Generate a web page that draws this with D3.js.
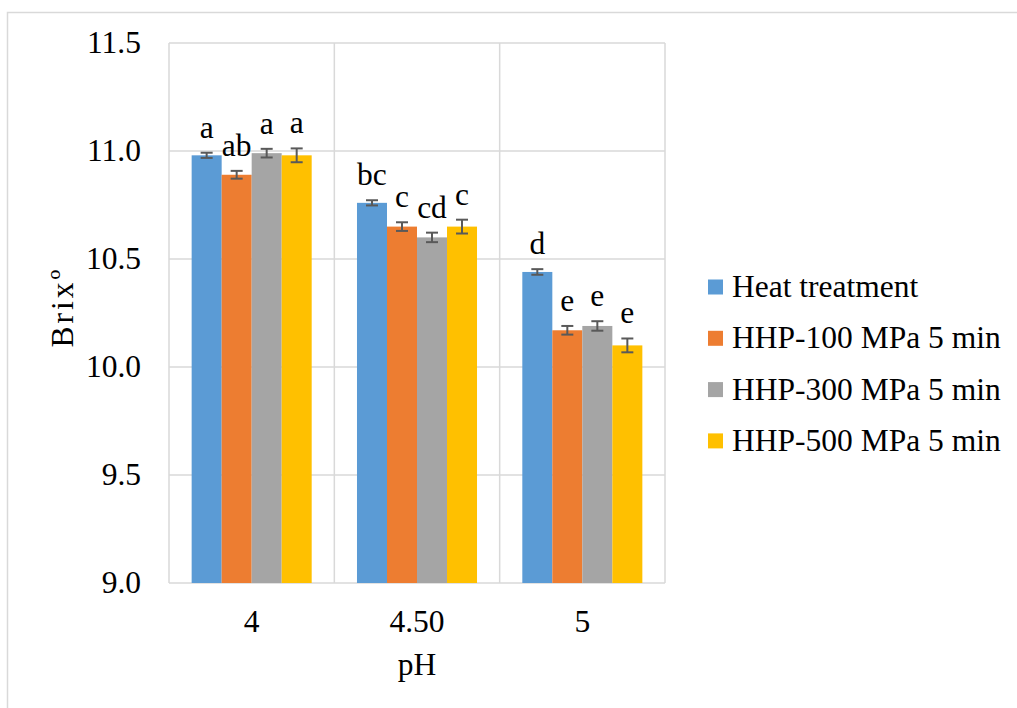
<!DOCTYPE html>
<html>
<head>
<meta charset="utf-8">
<script src="https://cdn.jsdelivr.net/npm/d3@7"></script>
<style>
  html, body { margin: 0; padding: 0; background: #fff; }
  svg { display: block; }
</style>
</head>
<body>
<svg id="chart" width="1017" height="708"></svg>
<script>
// Brix by pH and treatment
const categories = ["4", "4.50", "5"];
const seriesNames = ["Heat treatment", "HHP-100 MPa 5 min", "HHP-300 MPa 5 min", "HHP-500 MPa 5 min"];
const heatValues = [10.98, 10.76, 10.44];
const hhp100Values = [10.89, 10.65, 10.17];
const hhp300Values = [10.99, 10.60, 10.19];
const hhp500Values = [10.98, 10.65, 10.10];
const heatErr = [0.012, 0.012, 0.013];
const hhp100Err = [0.018, 0.02, 0.02];
const hhp300Err = [0.02, 0.022, 0.022];
const hhp500Err = [0.032, 0.032, 0.032];
const heatLetters = ["a", "bc", "d"];
const hhp100Letters = ["ab", "c", "e"];
const hhp300Letters = ["a", "cd", "e"];
const hhp500Letters = ["a", "c", "e"];
const yTicks = [9.0, 9.5, 10.0, 10.5, 11.0, 11.5];
const colors = ["#5B9BD5", "#ED7D31", "#A5A5A5", "#FFC000"];

const valueSets = [heatValues, hhp100Values, hhp300Values, hhp500Values];
const errSets = [heatErr, hhp100Err, hhp300Err, hhp500Err];
const letterSets = [heatLetters, hhp100Letters, hhp300Letters, hhp500Letters];

const FONT = '"Liberation Serif"';
const FS = 31.5;

const svg = d3.select("#chart");
const plot = { left: 169, right: 665, top: 43, bottom: 583 };

function label(sel) {
  return sel.style("font-family", FONT).style("font-size", FS + "px").attr("fill", "#000");
}

// Outer chart frame
svg.append("rect")
  .attr("x", 7.5).attr("y", 12.5)
  .attr("width", 1030).attr("height", 720)
  .attr("fill", "none").attr("stroke", "#d9d9d9").attr("stroke-width", 1.5);

const y = d3.scaleLinear().domain([9.0, 11.5]).range([plot.bottom, plot.top]);
const x0 = d3.scaleBand().domain(categories).range([plot.left, plot.right]);
const gap = x0.bandwidth() * 0.137;
const x1 = d3.scaleBand().domain(seriesNames).range([gap, x0.bandwidth() - gap]);

// Horizontal gridlines
svg.append("g").selectAll("line").data(yTicks).join("line")
  .attr("x1", plot.left).attr("x2", plot.right)
  .attr("y1", d => y(d)).attr("y2", d => y(d))
  .attr("stroke", "#d9d9d9").attr("stroke-width", 1.5);

// Vertical category dividers
const dividers = categories.map(c => x0(c)).concat([plot.right]);
svg.append("g").selectAll("line").data(dividers).join("line")
  .attr("x1", d => d).attr("x2", d => d)
  .attr("y1", plot.top).attr("y2", plot.bottom)
  .attr("stroke", "#d9d9d9").attr("stroke-width", 1.5);

// Y tick labels
svg.append("g").selectAll("text").data(yTicks).join("text")
  .attr("x", 141).attr("y", d => y(d) + 10)
  .attr("text-anchor", "end")
  .call(label)
  .text(d => d.toFixed(1));

// Bars, error bars, letters
const rows = [];
categories.forEach((c, ci) => {
  seriesNames.forEach((s, si) => {
    rows.push({ c, s, si, v: valueSets[si][ci], e: errSets[si][ci], l: letterSets[si][ci] });
  });
});

svg.append("g").selectAll("rect").data(rows).join("rect")
  .attr("x", d => x0(d.c) + x1(d.s))
  .attr("width", x1.bandwidth())
  .attr("y", d => y(d.v))
  .attr("height", d => y(9.0) - y(d.v))
  .attr("fill", d => colors[d.si]);

const eb = svg.append("g").attr("stroke", "#595959").attr("stroke-width", 2);
rows.forEach(d => {
  const cx = x0(d.c) + x1(d.s) + x1.bandwidth() / 2;
  const yt = y(d.v + d.e), yb = y(d.v - d.e);
  eb.append("line").attr("x1", cx).attr("x2", cx).attr("y1", yt).attr("y2", yb);
  eb.append("line").attr("x1", cx - 6).attr("x2", cx + 6).attr("y1", yt).attr("y2", yt);
  eb.append("line").attr("x1", cx - 6).attr("x2", cx + 6).attr("y1", yb).attr("y2", yb);
});

svg.append("g").selectAll("text").data(rows).join("text")
  .attr("x", d => x0(d.c) + x1(d.s) + x1.bandwidth() / 2)
  .attr("y", d => y(d.v + d.e) - 15)
  .attr("text-anchor", "middle")
  .call(label)
  .text(d => d.l);

// Category labels
svg.append("g").selectAll("text").data(categories).join("text")
  .attr("x", d => x0(d) + x0.bandwidth() / 2)
  .attr("y", 632)
  .attr("text-anchor", "middle")
  .call(label)
  .text(d => d);

// Axis titles
svg.append("text")
  .attr("x", (plot.left + plot.right) / 2).attr("y", 675)
  .attr("text-anchor", "middle")
  .call(label)
  .text("pH");
svg.append("text")
  .attr("transform", "translate(73, 307) rotate(-90)")
  .attr("text-anchor", "middle")
  .call(label)
  .style("letter-spacing", "3px")
  .text("Brixº");

// Legend
const legend = svg.append("g").selectAll("g").data(seriesNames).join("g")
  .attr("transform", (d, i) => `translate(708, ${287 + i * 51.3})`);
legend.append("rect")
  .attr("x", 0).attr("y", -7.5).attr("width", 15).attr("height", 15)
  .attr("fill", (d, i) => colors[i]);
legend.append("text")
  .attr("x", 24).attr("y", 10)
  .call(label)
  .text(d => d);
</script>
</body>
</html>
